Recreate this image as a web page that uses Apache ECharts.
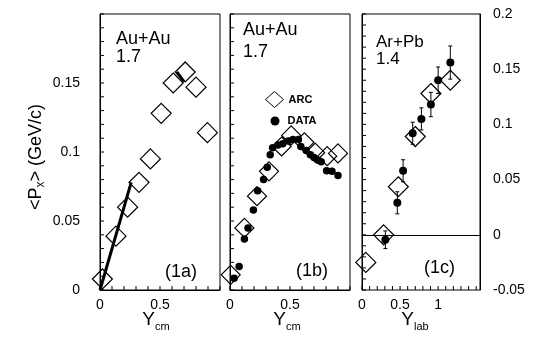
<!DOCTYPE html>
<html><head><meta charset="utf-8">
<script src="https://cdn.jsdelivr.net/npm/echarts@6/dist/echarts.min.js"></script>
<style>html,body{margin:0;padding:0;background:#fff}#c{width:539px;height:345px}</style>
</head><body><div id="c"></div><script>
// ---- data ----
const arcA = [[0.02,0.008],[0.133,0.039],[0.23,0.060],[0.325,0.078],[0.42,0.095],[0.51,0.128],[0.61,0.150],[0.71,0.158],[0.80,0.147],[0.895,0.114]];
const fitA = [[0,0],[0.26,0.078]];
const segA = [[0.64,0.158],[0.70,0.151]];
const arcB = [[0.006,0.011],[0.12,0.045],[0.225,0.068],[0.325,0.086],[0.43,0.104],[0.51,0.112],[0.62,0.107],[0.71,0.0995],[0.81,0.097],[0.90,0.099]];
const dataB = [[0.034,0.0085],[0.076,0.017],[0.12,0.037],[0.15,0.045],[0.195,0.058],[0.23,0.072],[0.28,0.080],[0.31,0.089],[0.335,0.098],[0.355,0.103],[0.40,0.105],[0.44,0.106],[0.485,0.108],[0.525,0.109],[0.57,0.109],[0.59,0.104],[0.635,0.101],[0.67,0.098],[0.70,0.096],[0.735,0.094],[0.76,0.093],[0.805,0.0865],[0.85,0.086],[0.90,0.083]];
const arcC = [[0.05,-0.025],[0.284,0.0],[0.477,0.0435],[0.70,0.089],[0.905,0.128],[1.16,0.140]];
const dataC = [[0.307,-0.0045],[0.464,0.029],[0.54,0.058],[0.666,0.092],[0.78,0.105],[0.905,0.118],[1.0,0.140],[1.16,0.156]];
const errC = [0.008,0.010,0.010,0.010,0.010,0.011,0.012,0.015];
const yTicksLeft = [0,0.05,0.1,0.15];
const xLabelsAB = [0,0.5];
const xLabelsC = [0,0.5,1];
// tick marks on the frames (axis values)
const xTicksAB = [0,0.1,0.2,0.3,0.4,0.5,0.6,0.7,0.8,0.9,1.0];
const xTicksC = [0,0.1,0.2,0.3,0.4,0.5,0.6,0.7,0.8,0.9,1.0,1.1,1.2,1.3,1.4,1.5];
const yTicksAB = [0,0.01,0.02,0.03,0.04,0.05,0.06,0.07,0.08,0.09,0.1,0.11,0.12,0.13,0.14,0.15,0.16,0.17,0.18,0.19,0.2];
const yTicksC = [-0.05,-0.04,-0.03,-0.02,-0.01,0,0.01,0.02,0.03,0.04,0.05,0.06,0.07,0.08,0.09,0.1,0.11,0.12,0.13,0.14,0.15,0.16,0.17,0.18,0.19,0.2];

const FONT = "'Liberation Sans', Arial, Helvetica, sans-serif";
const chart = echarts.init(document.getElementById('c'));
const gridBase = {show:true, borderColor:'#000', borderWidth:1, top:14, height:276};
function xAxis(gi, min, max, labels){
  return {type:'value', gridIndex:gi, min:min, max:max, interval:0.5,
    axisLine:{show:true, lineStyle:{color:'#000', width:1}}, splitLine:{show:false},
    axisTick:{show:false}, minorTick:{show:false},
    axisLabel:{margin:8, color:'#000', fontSize:14, fontFamily:FONT,
      formatter: v => labels.some(l => Math.abs(l - v) < 1e-9) ? String(Math.round(v*10)/10) : ''}};
}
function yAxis(gi, min, max, showLabels, right){
  return {type:'value', gridIndex:gi, min:min, max:max, interval:0.05,
    axisLine:{show:true, lineStyle:{color:'#000', width:1}}, splitLine:{show:false},
    axisTick:{show:false}, minorTick:{show:false},
    axisLabel:{show:showLabels, margin:right?13:20, color:'#000', fontSize:14, fontFamily:FONT,
      align: right?'left':'right',
      formatter: v => (!right && !yTicksLeft.some(t=>Math.abs(t-v)<1e-9)) ? '' : String(Math.round(v*100)/100)}};
}
function tickSeries(xi, yi, xt, yt, xmin, ymin){
  return {name:'ticks'+xi, type:'custom', xAxisIndex:xi, yAxisIndex:yi, silent:true, clip:false,
    data: xt.map(v=>[v, ymin, 0]).concat(yt.map(v=>[xmin, v, 1])),
    renderItem:(params, api)=>{
      const c = api.coord([api.value(0), api.value(1)]);
      const isY = api.value(2) === 1;
      return {type:'line', shape: isY ? {x1:c[0], y1:c[1], x2:c[0]+4, y2:c[1]} : {x1:c[0], y1:c[1], x2:c[0], y2:c[1]-4},
        style:{stroke:'#000', lineWidth:1}};
    }};
}
const diamondStyle = {color:'rgba(255,255,255,0)', borderColor:'#000', borderWidth:1.2, opacity:1};
const dotStyle = {color:'#000', opacity:1};

const option = {
  animation:false,
  backgroundColor:'#fff',
  grid:[
    Object.assign({left:100, width:120}, gridBase),
    Object.assign({left:230, width:120}, gridBase),
    Object.assign({left:362, width:118}, gridBase)
  ],
  xAxis:[
    xAxis(0, 0, 1.0, xLabelsAB),
    xAxis(1, 0, 1.0, xLabelsAB),
    xAxis(2, 0, 1.55, xLabelsC)
  ],
  yAxis:[
    yAxis(0, 0, 0.2, true, false),
    yAxis(1, 0, 0.2, false, false),
    yAxis(2, -0.05, 0.2, false, false),
    yAxis(2, -0.05, 0.2, true, true)
  ],
  legend:[
    {data:['ARC'], left:260, top:86, orient:'vertical', itemWidth:18, itemHeight:16, itemGap:0,
      itemStyle:{borderWidth:1},
      textStyle:{fontSize:11, fontWeight:'bold', fontFamily:FONT, color:'#000'}, selectedMode:false},
    {data:['DATA'], left:265.5, top:110.5, orient:'vertical', itemWidth:9, itemHeight:9, itemGap:0, formatter:' {name}',
      textStyle:{fontSize:11, fontWeight:'bold', fontFamily:FONT, color:'#000'}, selectedMode:false}
  ],
  series:[
    tickSeries(0, 0, xTicksAB, yTicksAB, 0, 0),
    tickSeries(1, 1, xTicksAB, yTicksAB, 0, 0),
    tickSeries(2, 2, xTicksC, yTicksC, 0, -0.05),
    {name:'ARC 1a', type:'scatter', xAxisIndex:0, yAxisIndex:0, data:arcA, symbol:'diamond', symbolSize:20, itemStyle:diamondStyle, clip:false},
    {name:'fit 1a', type:'line', xAxisIndex:0, yAxisIndex:0, data:fitA, showSymbol:false, symbol:'none', lineStyle:{color:'#000', width:3}},
    {name:'seg 1a', type:'line', xAxisIndex:0, yAxisIndex:0, data:segA, showSymbol:false, symbol:'none', lineStyle:{color:'#000', width:3}},
    {name:'ARC', type:'scatter', xAxisIndex:1, yAxisIndex:1, data:arcB, symbol:'diamond', symbolSize:19, itemStyle:diamondStyle, clip:false},
    {name:'DATA', type:'scatter', xAxisIndex:1, yAxisIndex:1, data:dataB, symbol:'circle', symbolSize:7.5, itemStyle:dotStyle, clip:false},
    {name:'ARC 1c', type:'scatter', xAxisIndex:2, yAxisIndex:2, data:arcC, symbol:'diamond', symbolSize:20, itemStyle:diamondStyle, clip:false},
    {name:'err 1c', type:'custom', xAxisIndex:2, yAxisIndex:2,
      data: dataC.map((d,i)=>[d[0], d[1]-errC[i], d[1]+errC[i]]),
      renderItem:(params, api)=>{
        const x = api.value(0);
        const lo = api.coord([x, api.value(1)]);
        const hi = api.coord([x, api.value(2)]);
        const st = {stroke:'#000', lineWidth:1};
        return {type:'group', children:[
          {type:'line', shape:{x1:lo[0], y1:lo[1], x2:hi[0], y2:hi[1]}, style:st},
          {type:'line', shape:{x1:hi[0]-2, y1:hi[1], x2:hi[0]+2, y2:hi[1]}, style:st},
          {type:'line', shape:{x1:lo[0]-2, y1:lo[1], x2:lo[0]+2, y2:lo[1]}, style:st}
        ]};
      }},
    {name:'DATA 1c', type:'scatter', xAxisIndex:2, yAxisIndex:2, data:dataC, symbol:'circle', symbolSize:8, itemStyle:dotStyle, clip:false,
      markLine:{silent:true, symbol:'none', label:{show:false}, lineStyle:{color:'#000', type:'solid', width:1}, data:[{yAxis:0}]}}
  ],
  graphic:[
    {type:'text', x:116, y:39, style:{text:'Au+Au', font:'18px '+FONT, fill:'#000', verticalAlign:'middle'}},
    {type:'text', x:116, y:57, style:{text:'1.7', font:'18px '+FONT, fill:'#000', verticalAlign:'middle'}},
    {type:'text', x:243, y:30, style:{text:'Au+Au', font:'18px '+FONT, fill:'#000', verticalAlign:'middle'}},
    {type:'text', x:243, y:52, style:{text:'1.7', font:'18px '+FONT, fill:'#000', verticalAlign:'middle'}},
    {type:'text', x:376, y:42, style:{text:'Ar+Pb', font:'17px '+FONT, fill:'#000', verticalAlign:'middle'}},
    {type:'text', x:376, y:59, style:{text:'1.4', font:'17px '+FONT, fill:'#000', verticalAlign:'middle'}},
    {type:'text', x:165, y:272, style:{text:'(1a)', font:'18px '+FONT, fill:'#000', verticalAlign:'middle'}},
    {type:'text', x:296, y:271, style:{text:'(1b)', font:'18px '+FONT, fill:'#000', verticalAlign:'middle'}},
    {type:'text', x:424, y:268, style:{text:'(1c)', font:'18px '+FONT, fill:'#000', verticalAlign:'middle'}},
    {type:'text', x:156, y:320, style:{text:'{a|Y}{b|cm}', align:'center', verticalAlign:'middle',
      rich:{a:{fontSize:19, lineHeight:24, fontFamily:FONT, color:'#000'}, b:{fontSize:11, lineHeight:11, fontFamily:FONT, color:'#000', verticalAlign:'bottom'}}}},
    {type:'text', x:287, y:320, style:{text:'{a|Y}{b|cm}', align:'center', verticalAlign:'middle',
      rich:{a:{fontSize:19, lineHeight:24, fontFamily:FONT, color:'#000'}, b:{fontSize:11, lineHeight:11, fontFamily:FONT, color:'#000', verticalAlign:'bottom'}}}},
    {type:'text', x:415, y:320, style:{text:'{a|Y}{b|lab}', align:'center', verticalAlign:'middle',
      rich:{a:{fontSize:19, lineHeight:24, fontFamily:FONT, color:'#000'}, b:{fontSize:11, lineHeight:11, fontFamily:FONT, color:'#000', verticalAlign:'bottom'}}}},
    {type:'text', x:36, y:157, rotation:Math.PI/2, style:{text:'{a|<P}{b|x}{a|> (GeV/c)}', align:'center', verticalAlign:'middle',
      rich:{a:{fontSize:18, lineHeight:22, fontFamily:FONT, color:'#000'}, b:{fontSize:12, lineHeight:12, fontFamily:FONT, color:'#000', verticalAlign:'bottom'}}}}
  ]
};
chart.setOption(option);
</script></body></html>
